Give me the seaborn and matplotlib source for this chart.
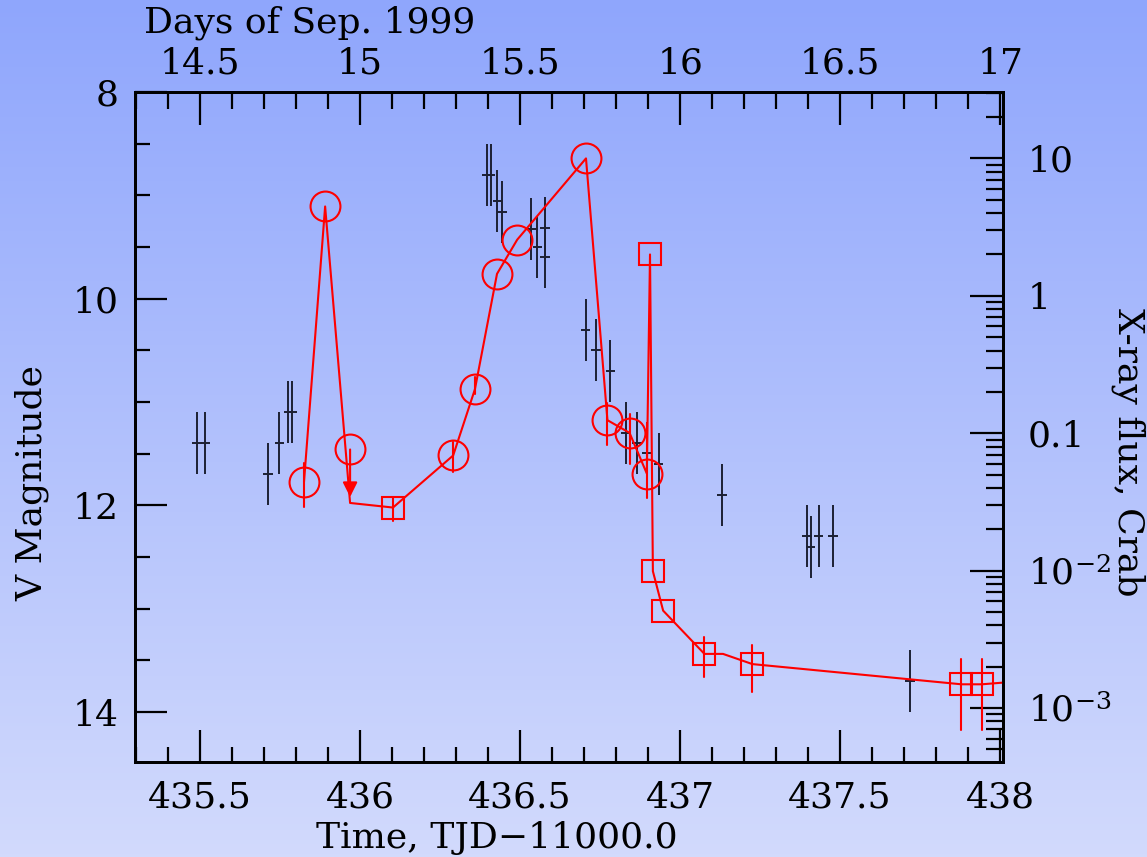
import numpy as np
import matplotlib
matplotlib.use("Agg")
import matplotlib.pyplot as plt
import seaborn as sns
import pandas as pd
from matplotlib.ticker import MultipleLocator, FixedLocator, LogLocator, FuncFormatter, NullFormatter
from matplotlib.colors import LinearSegmentedColormap

# ---------------- data ----------------
# Optical V-band photometry (left axis)
opt_tjd = [435.490, 435.517, 435.713, 435.748, 435.776, 435.788,
           436.397, 436.408, 436.429, 436.443, 436.534, 436.554, 436.577, 436.577,
           436.705, 436.7375, 436.782, 436.830, 436.866, 436.896, 436.933,
           437.131, 437.397, 437.408, 437.433, 437.477, 437.718]
opt_mag = [11.40, 11.40, 11.70, 11.40, 11.10, 11.10,
           8.80, 8.80, 9.05, 9.16, 9.33, 9.50, 9.32, 9.60,
           10.30, 10.50, 10.70, 11.30, 11.40, 11.49, 11.60,
           11.90, 12.30, 12.40, 12.30, 12.30, 13.70]
opt_err = [0.30] * len(opt_tjd)
opt_terr = [0.015] * len(opt_tjd)

# X-ray flux in Crab (right axis); marker '' = line vertex only
xr_tjd = [435.825, 435.891, 435.969, 436.103, 436.291, 436.359, 436.428, 436.491,
          436.706, 436.773, 436.842, 436.896, 436.906, 436.915, 436.947, 437.076,
          437.134, 437.226, 437.879, 437.943, 438.050]
xr_flux = [0.0443, 4.47, 0.0311, 0.0288, 0.0689, 0.209, 1.445, 2.56,
           10.0, 0.1245, 0.1007, 0.0509, 2.0, 0.00991, 0.00512, 0.00248,
           0.00248, 0.00209, 0.00149, 0.00149, 0.00156]
xr_marker = ['o', 'o', '', 's', 'o', 'o', 'o', 'o',
             'o', 'o', 'o', 'o', 's', 's', 's', 's',
             '', 's', 's', 's', '']
xr_lo = [0.0290, None, None, 0.0230, 0.0524, 0.193, None, None,
         None, 0.0819, 0.0596, 0.0337, None, None, None, 0.00168,
         None, 0.00130, 0.00069, 0.00069, None]
xr_hi = [0.0605, None, None, 0.0344, 0.0865, 0.256, None, None,
         None, 0.1656, 0.1374, 0.118, None, None, None, 0.00328,
         None, 0.00287, 0.00227, 0.00227, None]

# upper limit (circle with downward arrow)
ul_tjd = [435.969]
ul_flux = [0.0762]
ul_tip = [0.0344]

tjd_offset = 421.0  # TJD 435.5 = Sep 14.5
x_ticks = [435.5, 436.0, 436.5, 437.0, 437.5, 438.0]
day_ticks = [14.5, 15.0, 15.5, 16.0, 16.5, 17.0]
mag_ticks = [8, 10, 12, 14]
flux_ticks = [10, 1, 0.1, 0.01, 0.001]
flux_labels = ['10', '1', '0.1', '$10^{-2}$', '$10^{-3}$']

# ---------------- style ----------------
sns.set_theme(style="ticks")
plt.rcParams['font.family'] = ['DejaVu Serif', 'DejaVu Sans']
plt.rcParams['mathtext.fontset'] = 'dejavuserif'
plt.rcParams['axes.unicode_minus'] = True

FS = 26
RED = '#ff0000'
BLK = '#1c2033'

fig = plt.figure(figsize=(11.47, 8.57), dpi=100)

# background gradient
bg = fig.add_axes([0, 0, 1, 1], zorder=-10)
cmap = LinearSegmentedColormap.from_list('bgg', ['#d2dafc', '#8fa6fc'])
grad = np.linspace(0, 1, 256).reshape(-1, 1)
bg.imshow(grad, aspect='auto', cmap=cmap, origin='lower', extent=[0, 1, 0, 1])
bg.axis('off')

ax = fig.add_axes([0.1177, 0.1108, 0.7568, 0.7818])
ax.patch.set_alpha(0)
xlim = (435.297, 438.009)
ax.set_xlim(*xlim)
ax.set_ylim(14.484, 8.0)

# optical points
ax.errorbar(opt_tjd, opt_mag, yerr=opt_err, xerr=opt_terr, fmt='none',
            ecolor=BLK, elinewidth=1.4, capsize=0, zorder=2)

ax.xaxis.set_major_locator(FixedLocator(x_ticks))
ax.xaxis.set_minor_locator(MultipleLocator(0.1))
ax.xaxis.set_major_formatter(FuncFormatter(lambda v, p: f"{v:g}"))
ax.yaxis.set_major_locator(FixedLocator(mag_ticks))
ax.yaxis.set_minor_locator(MultipleLocator(0.5))
ax.tick_params(axis='x', which='both', direction='in', bottom=True, top=False,
               labelsize=FS, pad=13, colors='black')
ax.tick_params(axis='y', which='both', direction='in', left=True, right=False,
               labelsize=FS, pad=12, colors='black')
ax.tick_params(which='major', length=23, width=1.6)
ax.tick_params(which='minor', length=11, width=1.6)
ax.set_xlabel('Time, TJD\u221211000.0', fontsize=FS, color='black')
ax.xaxis.set_label_coords(0.417, -0.113)
ax.xaxis.label.set_va('center')
ax.set_ylabel('V Magnitude', fontsize=FS, color='black')
ax.yaxis.set_label_coords(-0.1187, 0.416)
ax.yaxis.label.set_va('center')

# right axis: X-ray flux
axr = ax.twinx()
axr.set_yscale('log')
axr.set_ylim(4.05e-4, 30.4)
axr.set_xlim(*xlim)

df = pd.DataFrame({'tjd': xr_tjd, 'flux': xr_flux})
sns.lineplot(data=df, x='tjd', y='flux', ax=axr, color=RED, lw=1.5,
             estimator=None, sort=False, zorder=3)
for t, f, m, lo, hi in zip(xr_tjd, xr_flux, xr_marker, xr_lo, xr_hi):
    if lo is not None:
        axr.plot([t, t], [lo, hi], color=RED, lw=1.5, zorder=3)
    if m == 'o':
        axr.plot([t], [f], marker='o', ms=21.5, mfc='none', mec=RED, mew=1.5, zorder=4)
    elif m == 's':
        axr.plot([t], [f], marker='s', ms=15.5, mfc='none', mec=RED, mew=1.5, zorder=4)
for t, f, tip in zip(ul_tjd, ul_flux, ul_tip):
    axr.plot([t], [f], marker='o', ms=21.5, mfc='none', mec=RED, mew=1.5, zorder=4)
    axr.annotate('', xy=(t, tip), xytext=(t, f),
                 arrowprops=dict(arrowstyle='-|>', color=RED, lw=1.5,
                                 mutation_scale=22, shrinkA=0, shrinkB=0), zorder=4)

axr.yaxis.set_major_locator(FixedLocator(flux_ticks))
axr.yaxis.set_major_formatter(FuncFormatter(
    lambda v, p: dict(zip(flux_ticks, flux_labels)).get(round(v, 6), '')))
axr.yaxis.set_minor_locator(LogLocator(base=10, subs=np.arange(2, 10), numticks=20))
axr.yaxis.set_minor_formatter(NullFormatter())
axr.tick_params(axis='y', which='both', direction='in', right=True, left=False,
                labelsize=FS, pad=18, colors='black')
axr.tick_params(axis='y', which='major', length=24, width=1.6)
axr.tick_params(axis='y', which='minor', length=12, width=1.6)
axr.tick_params(axis='x', which='both', bottom=False, top=False, labelbottom=False)
axr.set_ylabel('X-ray flux, Crab', fontsize=FS, rotation=-90, color='black')
axr.yaxis.set_label_coords(1.144, 0.463)
axr.yaxis.label.set_va('center')

# top axis: days of Sep 1999
axt = ax.twiny()
axt.set_xlim(xlim[0] - tjd_offset, xlim[1] - tjd_offset)
axt.xaxis.set_major_locator(FixedLocator(day_ticks))
axt.xaxis.set_minor_locator(MultipleLocator(0.1))
axt.xaxis.set_major_formatter(FuncFormatter(lambda v, p: f"{v:g}"))
axt.tick_params(axis='x', which='both', direction='in', top=True, bottom=False,
                labelsize=FS, pad=8, colors='black')
axt.tick_params(axis='x', which='major', length=24, width=1.6)
axt.tick_params(axis='x', which='minor', length=12, width=1.6)
axt.tick_params(axis='y', which='both', left=False, right=False, labelleft=False)
axt.set_xlabel('Days of Sep. 1999', fontsize=FS, color='black')
axt.xaxis.set_label_coords(0.2016, 1.104)
axt.xaxis.label.set_va('center')

for a in (ax, axr, axt):
    for s in a.spines.values():
        s.set_linewidth(2)
        s.set_color('black')
    a.patch.set_alpha(0)

fig.savefig('out.png', dpi=100)
